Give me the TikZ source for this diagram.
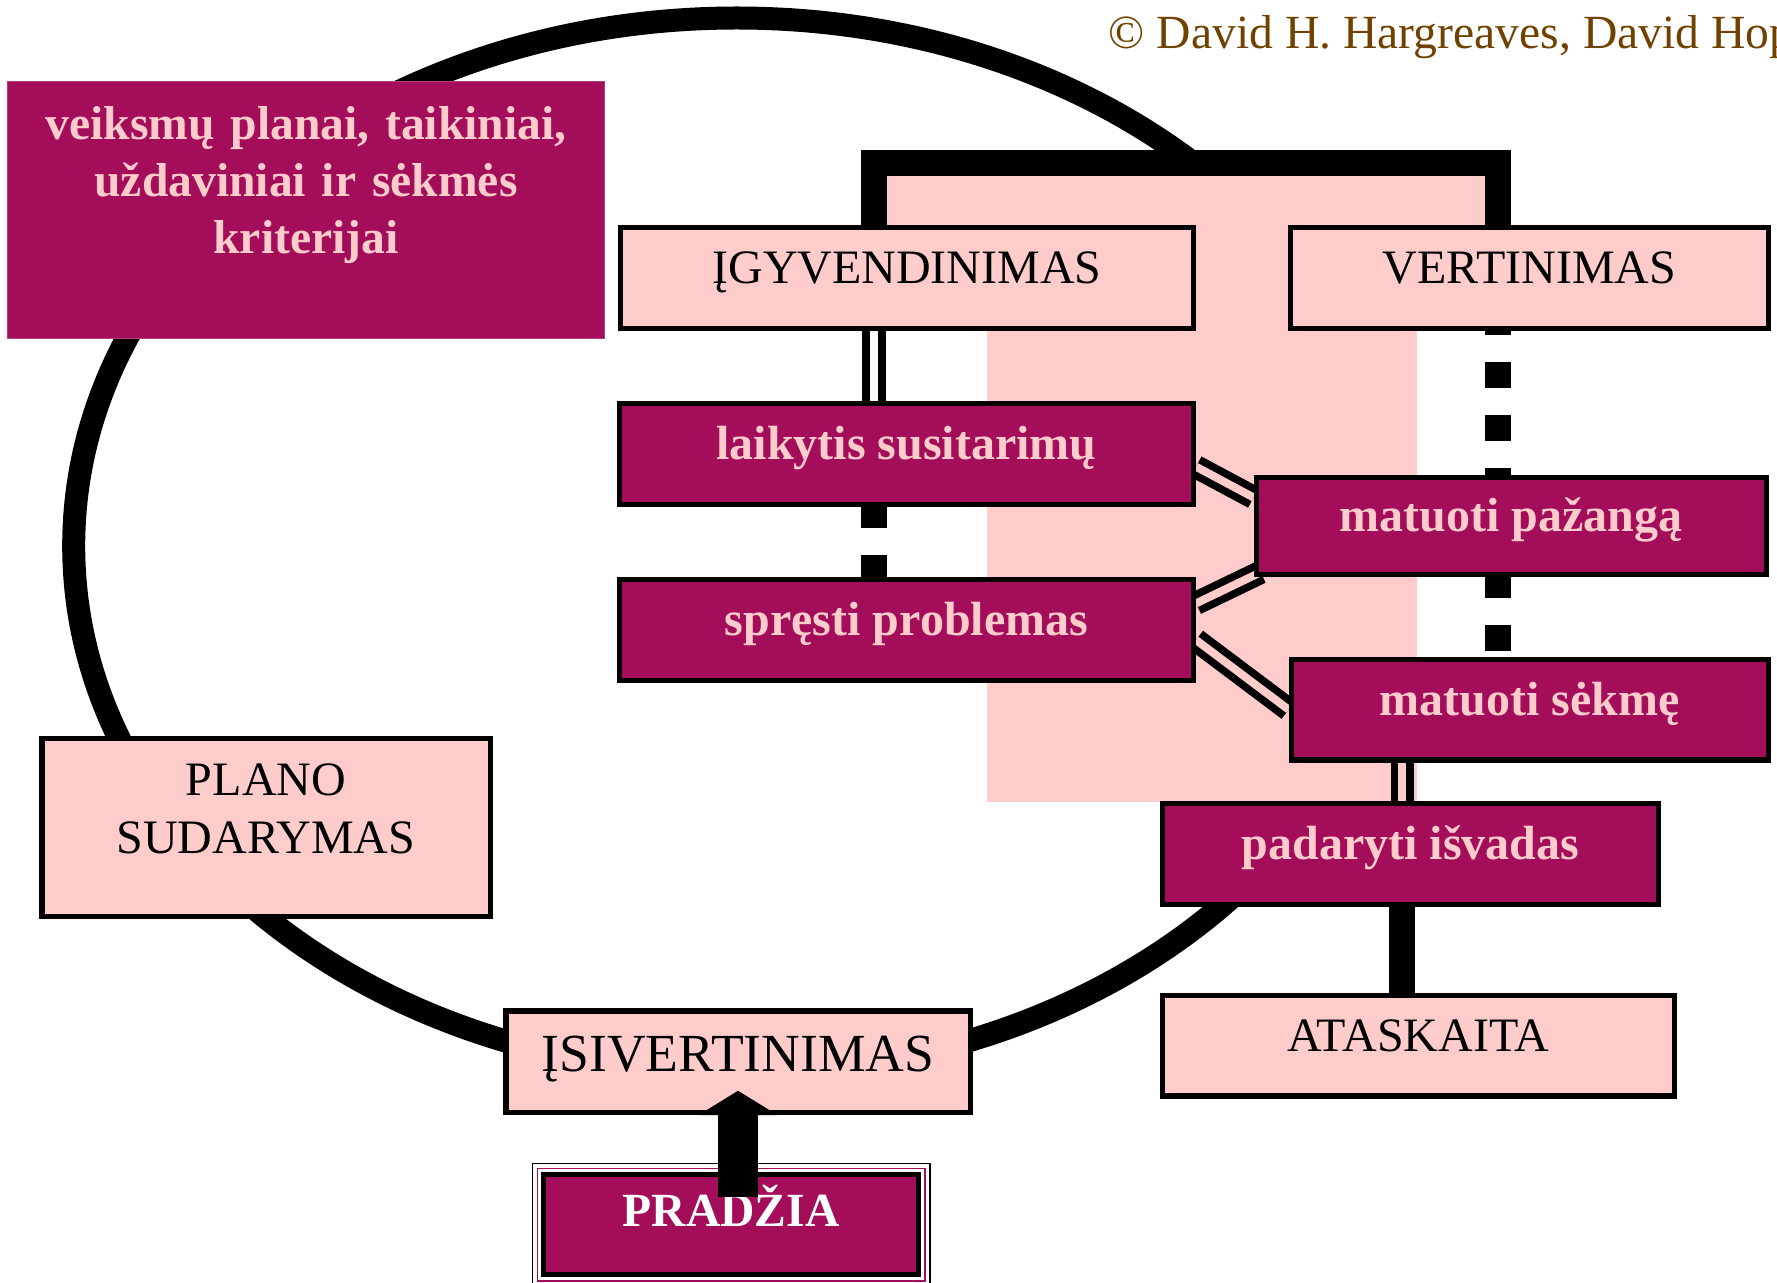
\documentclass[tikz,border=0pt]{standalone}
\usepackage{fontspec}
\setmainfont{Liberation Serif}
\usetikzlibrary{backgrounds}

\definecolor{rozine}{RGB}{255,204,204}
\definecolor{bordo}{RGB}{164,13,90}
\definecolor{ruda}{RGB}{112,66,0}

\tikzset{
    box/.style={draw=black, line width=2.6pt, inner sep=0pt, minimum height=50.4pt, text height=17pt, text depth=11.5pt},
    lightbox/.style={box, fill=rozine, font=\fontsize{24}{28}\selectfont},
    darkbox/.style={box, fill=bordo, text=rozine, font=\fontsize{24}{28.3}\selectfont\bfseries},
    dvi/.style={line width=3.8pt, double=rozine, double distance=4pt},
    tasku/.style={line width=13pt, dash pattern=on 13pt off 13.5pt},
    stora/.style={line width=13pt}
}

\begin{document}
\begin{tikzpicture}[x=0.5pt, y=-0.5pt]

    \useasboundingbox (0,0) rectangle (1777,1283);
    \clip (0,0) rectangle (1777,1283);

    \node[anchor=base west, inner sep=0pt, text=ruda, font=\fontsize{23.8}{28}\selectfont] (autoriai) at (1108.5,48.7) {© David H. Hargreaves, David Hopkins};

    \node[darkbox, draw=bordo!80!white, line width=0.6pt, minimum width=298.4pt, minimum height=128.6pt, text width=290pt, align=center, font=\fontsize{23.8}{28.3}\selectfont\bfseries, text height=10.25pt, text depth=80pt] (veiksmai) at (306,209.75) {veiksmų planai, taikiniai,\\ uždaviniai ir sėkmės\\ kriterijai};

    \node[lightbox, minimum width=286.4pt] (igyvendinimas) at (907,277.75) {ĮGYVENDINIMAS};
    \node[lightbox, minimum width=238.9pt] (vertinimas) at (1529.5,278) {VERTINIMAS};

    \node[darkbox, minimum width=286.9pt] (susitarimai) at (906.5,453.7) {laikytis susitarimų};
    \node[darkbox, minimum width=286.9pt] (problemos) at (906.5,630) {spręsti problemas};
    \node[darkbox, minimum width=255.15pt, minimum height=48.4pt] (pazanga) at (1511.3,526) {matuoti pažangą};
    \node[darkbox, minimum width=238.6pt] (sekme) at (1529.8,709.6) {matuoti sėkmę};
    \node[darkbox, minimum width=247.75pt] (isvados) at (1410.4,853.7) {padaryti išvadas};

    \node[lightbox, minimum width=255.75pt] (ataskaita) at (1418.4,1045.5) {ATASKAITA};
    \node[lightbox, minimum width=224.1pt, minimum height=89.05pt, text width=220pt, align=center, font=\fontsize{24}{29.2}\selectfont, text height=7.3pt, text depth=40pt] (planas) at (266,827.7) {PLANO\\ SUDARYMAS};
    \node[lightbox, minimum width=232.1pt, minimum height=50.75pt, font=\fontsize{26.8}{31}\selectfont, text height=19pt, text depth=9pt] (isivertinimas) at (738,1061.7) {ĮSIVERTINIMAS};

    \node[darkbox, minimum width=187.4pt, minimum height=49.9pt, text=white, text height=16pt, text depth=14.3pt, font=\fontsize{23.8}{28}\selectfont\bfseries] (pradzia) at (731,1224.5) {PRADŽIA};
    \draw[line width=0.9pt] ([shift={(-4.3pt,4.3pt)}]pradzia.north west) rectangle ([shift={(4.3pt,-4.3pt)}]pradzia.south east);
    \draw[bordo, line width=0.9pt] ([shift={(-1.8pt,1.8pt)}]pradzia.north west) rectangle ([shift={(1.8pt,-1.8pt)}]pradzia.south east);

    \begin{scope}[on background layer]
        \draw[line width=11.5pt] (736.7,546) ellipse [x radius=663, y radius=528];
        \fill[rozine] (874,163) rectangle (1498,331);
        \fill[rozine] (987,331) rectangle (1417,801.7);

        \draw[stora] ([xshift=-16.5pt]igyvendinimas.north) -- ++(0,-62) -| ([xshift=-15.75pt]vertinimas.north);
        \draw[dvi, double=white] ([xshift=-16.5pt]igyvendinimas.south) -- ([xshift=-16.25pt]susitarimai.north);
        \draw[tasku, dash phase=2.5pt] ([xshift=-16.25pt]susitarimai.south) -- ([xshift=-16.25pt]problemos.north);
        \draw[tasku, dash phase=11pt] ([xshift=-15.75pt]vertinimas.south) -- ([xshift=-6.65pt]pazanga.north);
        \draw[tasku, dash phase=2.5pt] ([xshift=-6.65pt]pazanga.south) -- ([xshift=-15.9pt]sekme.north);
        \draw[dvi] ([yshift=-6.5pt]susitarimai.east) -- ([yshift=14.25pt]pazanga.west);
        \draw[dvi] ([yshift=13.3pt]problemos.east) -- ([xshift=3.5pt,yshift=2.35pt]pazanga.south west);
        \draw[dvi] ([yshift=-5pt]problemos.east) -- (sekme.west);
        \draw[dvi] ([xshift=-63.8pt]sekme.south) -- ([xshift=-4.1pt]isvados.north);
        \draw[stora] ([xshift=-4pt]isvados.south) -- ([xshift=-8pt]ataskaita.north);
    \end{scope}

    \draw[line width=19.7pt] ([xshift=3.5pt,yshift=-12.5pt]pradzia.north) -- (isivertinimas.south);
    \fill ([xshift=-19.75pt]isivertinimas.south) -- ([yshift=12.15pt]isivertinimas.south) -- ([xshift=19.75pt]isivertinimas.south) -- cycle;

\end{tikzpicture}
\end{document}
